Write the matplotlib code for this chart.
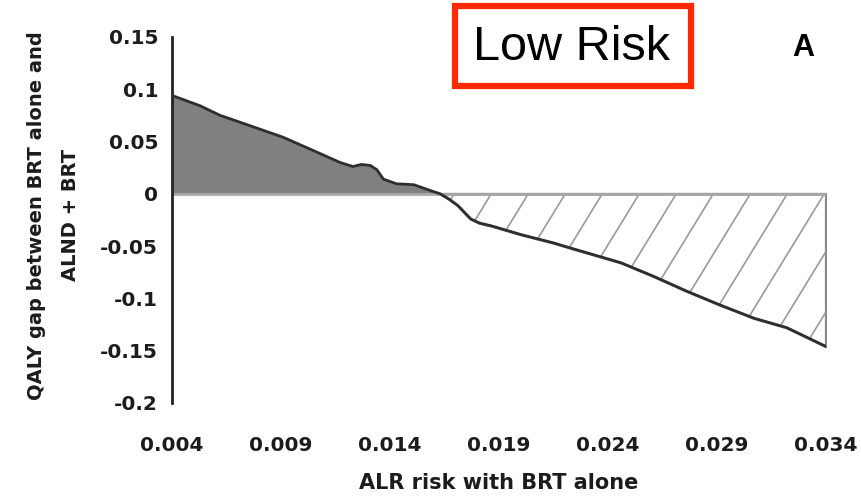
import numpy as np
import matplotlib.pyplot as plt
from matplotlib.patches import Rectangle

# ALR risk with BRT alone vs QALY gap (BRT alone minus ALND + BRT)
alr_risk = [0.0040, 0.0053, 0.0062, 0.0080, 0.0091, 0.0103, 0.0117, 0.0123,
            0.0127, 0.0131, 0.0134, 0.0137, 0.0143, 0.0151, 0.0160, 0.0163,
            0.0167, 0.0171, 0.0177, 0.0181, 0.0187, 0.0200, 0.0215, 0.0223,
            0.0246, 0.0261, 0.0276, 0.0291, 0.0307, 0.0322, 0.0340]
qaly_gap = [0.094, 0.084, 0.075, 0.062, 0.054, 0.043, 0.030, 0.026,
            0.028, 0.027, 0.023, 0.014, 0.0095, 0.0086, 0.002, 0.0,
            -0.005, -0.011, -0.024, -0.028, -0.031, -0.039, -0.047, -0.052,
            -0.066, -0.079, -0.093, -0.106, -0.119, -0.128, -0.146]

x_ticks = [0.004, 0.009, 0.014, 0.019, 0.024, 0.029, 0.034]
x_ticklabels = ["0.004", "0.009", "0.014", "0.019", "0.024", "0.029", "0.034"]
y_ticks = [0.15, 0.1, 0.05, 0, -0.05, -0.1, -0.15, -0.2]
y_ticklabels = ["0.15", "0.1", "0.05", "0", "-0.05", "-0.1", "-0.15", "-0.2"]

x = np.array(alr_risk)
y = np.array(qaly_gap)

plt.rcParams["font.family"] = ["DejaVu Sans"]
txt_color = "#1c1c1c"

fig = plt.figure(figsize=(8.62, 4.98), dpi=100)
ax = fig.add_axes([0.1995, 0.191, 0.7585, 0.735])

# BRT alone favoured: solid grey
ax.fill_between(x, y, 0, where=y >= 0, interpolate=True,
                facecolor="#808080", edgecolor="none", zorder=1)
# ALND + BRT favoured: outlined, sparse diagonal hatching
neg = ax.fill_between(x, y, 0, where=y <= 0, interpolate=True,
                      facecolor="white", edgecolor="#8a8a8a", linewidth=2,
                      zorder=1)

clip_path = neg.get_paths()[0]
for x0 in np.arange(-0.5, 1.05, 0.0566):
    ln, = ax.plot([x0, x0 + 0.343], [0, 1], transform=ax.transAxes,
                  color="#9a9a9a", linewidth=1.2, zorder=2)
    ln.set_clip_path(clip_path, neg.get_transform())

ax.axhline(0, color="#a8a8a8", linewidth=2, zorder=2)
ax.plot(x, y, color="#2e2e2e", linewidth=2, zorder=3)

ax.set_xlim(0.004, 0.034)
ax.set_ylim(-0.2, 0.15)
for side in ["top", "right", "bottom"]:
    ax.spines[side].set_visible(False)
ax.spines["left"].set_linewidth(2)
ax.spines["left"].set_color("#222222")

ax.set_xticks(x_ticks)
ax.set_xticklabels(x_ticklabels)
ax.set_yticks(y_ticks)
ax.set_yticklabels(y_ticklabels)
ax.tick_params(axis="x", length=0, pad=24, labelsize=14.5, labelcolor=txt_color)
ax.tick_params(axis="y", length=0, pad=10, labelsize=14.5, labelcolor=txt_color)
for lbl in ax.get_xticklabels() + ax.get_yticklabels():
    lbl.set_fontweight("bold")

ax.set_xlabel("ALR risk with BRT alone", fontsize=15, fontweight="bold",
              color=txt_color, labelpad=13)
fig.text(0.062, 0.568, "QALY gap between BRT alone and\nALND + BRT",
         rotation=90, ha="center", va="center", fontsize=14,
         fontweight="bold", color=txt_color, linespacing=2.0)

# "Low Risk" box and panel letter
fig.patches.append(Rectangle((455 / 862, 1 - 86 / 498), 236 / 862, 80 / 498,
                             transform=fig.transFigure, fill=False,
                             edgecolor="#ff2a00", linewidth=4.5))
fig.text(572 / 862, 1 - 48 / 498, "Low Risk", ha="center", va="center",
         fontsize=35, family=["Liberation Sans", "DejaVu Sans"])
fig.text(803 / 862, 1 - 48 / 498, "A", ha="center", va="center",
         fontsize=22, fontweight="bold", family=["Liberation Sans", "DejaVu Sans"])

fig.savefig("out.png", dpi=100)
